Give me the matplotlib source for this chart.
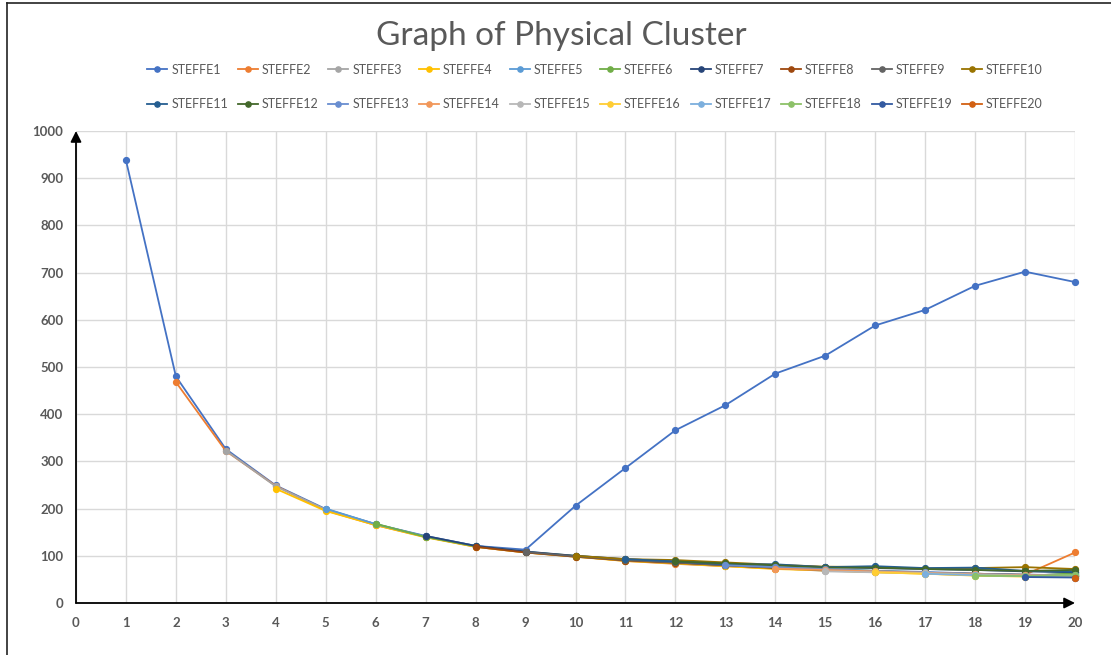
import matplotlib
matplotlib.use("Agg")
import matplotlib.pyplot as plt
from matplotlib.lines import Line2D

plt.rcParams['font.family'] = ['Lato', 'DejaVu Sans']

series_names = [f"STEFFE{i}" for i in range(1, 21)]
colors = ["#4472C4", "#ED7D31", "#A5A5A5", "#FFC000", "#5B9BD5", "#70AD47",
          "#264478", "#9E480E", "#636363", "#997300", "#255E91", "#43682B",
          "#698ED0", "#F1975A", "#B7B7B7", "#FFCD33", "#7CAFDD", "#8CC168",
          "#335AA1", "#D26012"]

# each series k starts at x = k and runs to x = 20
s1 = [938, 480, 326, 249, 199, 167, 142, 121, 113, 206, 286, 366, 419, 486, 524, 588, 621, 672, 702, 680]
s2 = [468, 322, 248, 196, 165, 140, 119, 107, 99, 89, 83, 78, 73, 69, 66, 64, 62, 60, 107]
s3 = [323, 247, 198, 167, 140, 120, 108, 98, 90, 84, 79, 74, 68, 66, 63, 60, 58, 62]
s4 = [242, 195, 165, 139, 119, 107, 98, 89, 84, 78, 72, 69, 65, 62, 58, 56, 60]
s5 = [200, 167, 141, 121, 109, 99, 91, 86, 80, 75, 71, 68, 64, 61, 58, 62]
s6 = [168, 140, 120, 108, 100, 92, 86, 81, 76, 72, 68, 65, 59, 57, 63]
s7 = [142, 121, 109, 100, 93, 88, 83, 80, 76, 74, 72, 70, 67, 65]
s8 = [119, 107, 98, 90, 85, 80, 74, 70, 67, 64, 62, 59, 57]
s9 = [108, 99, 91, 86, 80, 75, 70, 67, 64, 62, 60, 58]
s10 = [100, 93, 91, 86, 81, 77, 76, 73, 74, 76, 72]
s11 = [93, 88, 82, 82, 76, 78, 74, 75, 68, 66]
s12 = [88, 84, 80, 75, 75, 72, 70, 68, 70]
s13 = [80, 76, 72, 68, 66, 62, 60, 59]
s14 = [73, 70, 67, 64, 61, 59, 58]
s15 = [67, 65, 63, 60, 58, 57]
s16 = [65, 62, 59, 57, 56]
s17 = [62, 59, 57, 58]
s18 = [58, 57, 60]
s19 = [55, 54]
s20 = [52]
series_values = [s1, s2, s3, s4, s5, s6, s7, s8, s9, s10,
                 s11, s12, s13, s14, s15, s16, s17, s18, s19, s20]

x_ticks = list(range(0, 21))
y_ticks = list(range(0, 1001, 100))

W, H = 1111, 655
fig = plt.figure(figsize=(W / 100, H / 100), dpi=100)
ax = fig.add_axes([76 / W, 1 - 603 / H, (1075 - 76) / W, (603 - 131) / H])

handles = []
for k, (name, vals, c) in enumerate(zip(series_names, series_values, colors), start=1):
    xs = list(range(k, k + len(vals)))
    h, = ax.plot(xs, vals, color=c, lw=1.3, marker='o', markersize=4.2, label=name,
                 clip_on=False, zorder=3 + k * 0.01)
    handles.append(h)

ax.set_xlim(0, 20)
ax.set_ylim(0, 1000)
ax.set_xticks(x_ticks)
ax.set_yticks(y_ticks)
for s in ax.spines.values():
    s.set_visible(False)
ax.grid(True, color="#D9D9D9", lw=1.0)
ax.set_axisbelow(True)
ax.tick_params(length=0, labelsize=9.5, labelcolor="#595959")
ax.tick_params(axis='y', pad=9)
ax.tick_params(axis='x', pad=10)
for lab in ax.get_xticklabels() + ax.get_yticklabels():
    lab.set_fontweight('bold')

# axis arrows
ax.annotate('', xy=(0, 1000), xytext=(0, 0), xycoords='data',
            arrowprops=dict(arrowstyle='-|>', color='black', lw=1.3, mutation_scale=16,
                            shrinkA=0, shrinkB=0), annotation_clip=False, zorder=10)
ax.annotate('', xy=(20, 0), xytext=(0, 0), xycoords='data',
            arrowprops=dict(arrowstyle='-|>', color='black', lw=1.3, mutation_scale=16,
                            shrinkA=0, shrinkB=0), annotation_clip=False, zorder=10)

fig.text(561 / W, 1 - 36 / H, "Graph of Physical Cluster", ha='center', va='center',
         fontsize=24, color="#595959", fontweight='normal')

# legend in row-major order (matplotlib fills column-major)
ncol, nrow = 10, 2
order = [r * ncol + c for c in range(ncol) for r in range(nrow)]
leg = fig.legend([handles[i] for i in order], [series_names[i] for i in order],
                 loc='center', bbox_to_anchor=(595 / W, 1 - 87 / H), ncol=ncol,
                 frameon=False, fontsize=9, labelcolor="#595959",
                 handlelength=1.6, handletextpad=0.3, columnspacing=0.8,
                 labelspacing=1.8, markerscale=0.9)

# outer border
fig.add_artist(Line2D([6.5 / W, 6.5 / W], [0, 1 - 3 / H], color='#222222', lw=1.2,
                      transform=fig.transFigure))
fig.add_artist(Line2D([6.5 / W, 1], [1 - 3 / H, 1 - 3 / H], color='#222222', lw=1.2,
                      transform=fig.transFigure))

fig.savefig("out.png", dpi=100)
